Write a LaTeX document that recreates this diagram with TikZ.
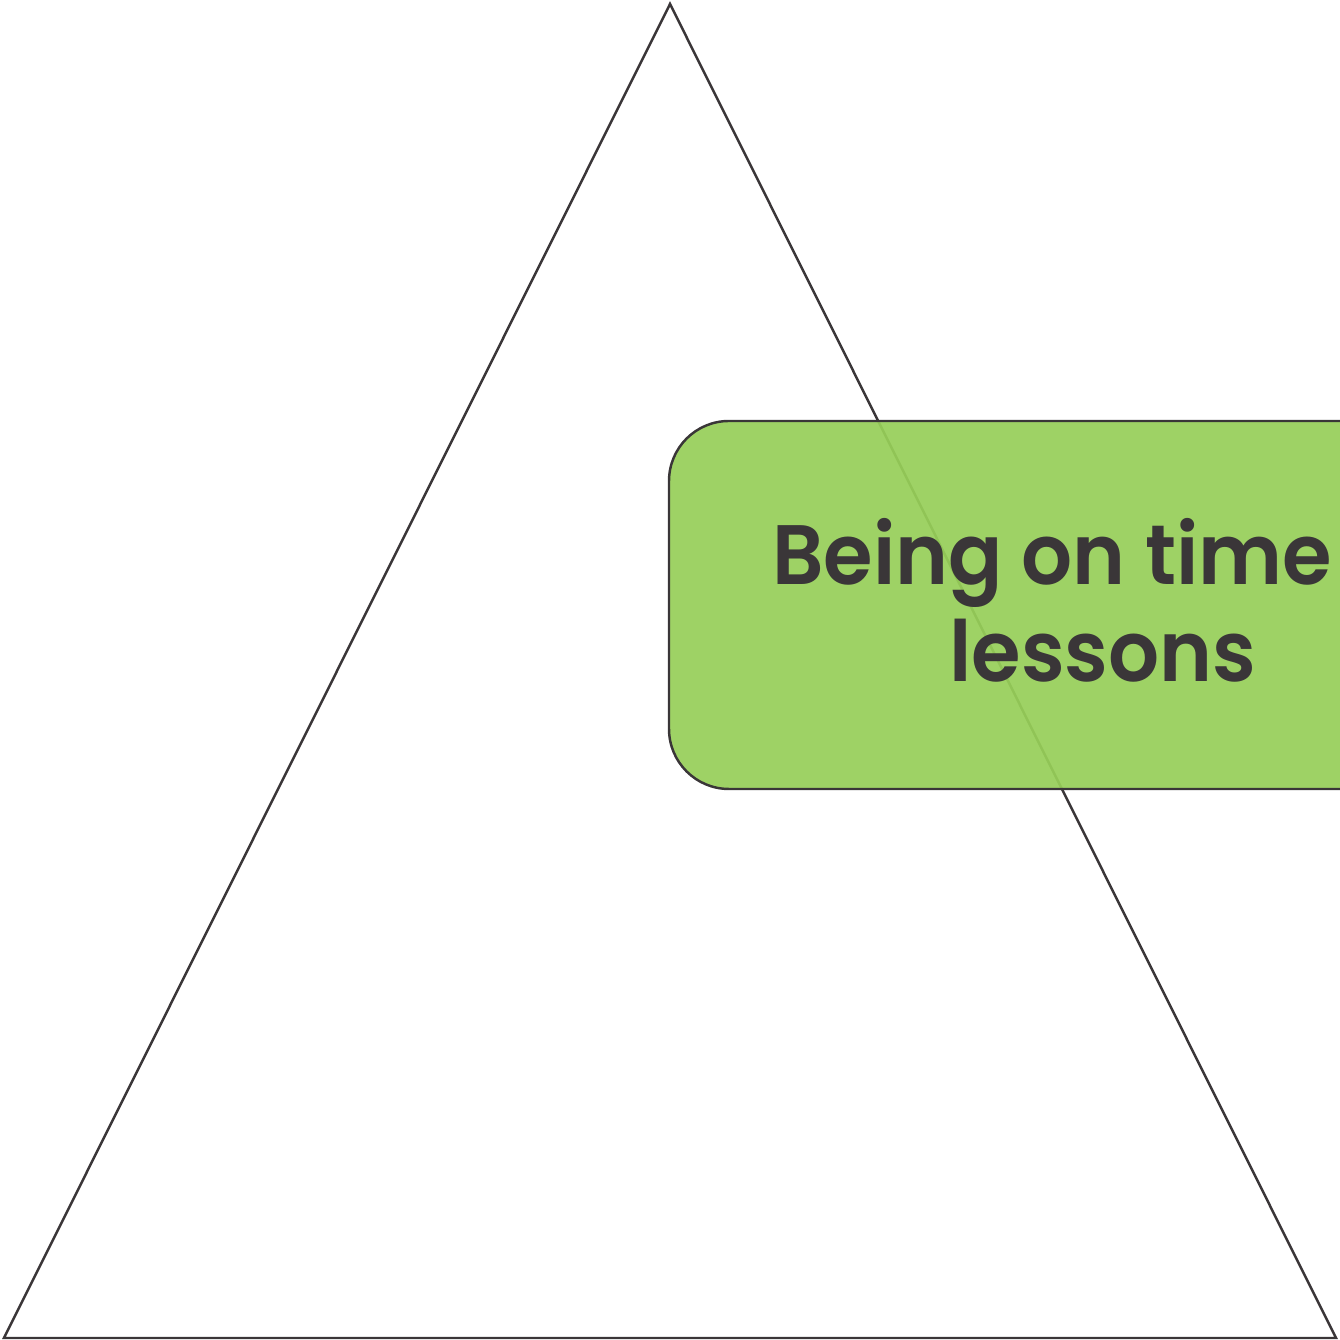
\documentclass[tikz,border=0pt]{standalone}
\usepackage{fontspec}
\usepackage{tikz}
\newfontfamily\boxfont{Poppins}[UprightFont=* SemiBold]
\definecolor{inkgray}{HTML}{3A3638}
\definecolor{leafgreen}{HTML}{97CF59}
\tikzset{boxlabel/.style={anchor=base, inkgray, inner sep=0pt, xscale=0.95, font=\boxfont\fontsize{24}{28}\selectfont}}

\begin{document}
\begin{tikzpicture}
    % Fix the picture size
    \useasboundingbox (0,0) rectangle (13.4,13.4);

    % Draw the big triangle
    \draw[inkgray, line width=0.7pt, line join=miter] (0.04,0.02) coordinate (tl) -- (6.70,13.36) coordinate (tt) -- (13.36,0.02) coordinate (tr) -- cycle;

    % Green rounded box, running off the right edge
    \def\boxleft{6.69}
    \def\boxtop{9.19}
    \def\boxbottom{5.51}
    \fill[leafgreen, fill opacity=0.93, rounded corners=0.6cm] (\boxleft,\boxbottom) rectangle (15.4,\boxtop);
    \draw[inkgray, line width=0.7pt, rounded corners=0.6cm] (\boxleft,\boxbottom) rectangle (15.4,\boxtop);

    % Label lines
    \node[boxlabel] (lineone) at (10.52,7.55) {Being on time};
    \node[boxlabel] (linetwo) at (11.03,6.58) {lessons};

\end{tikzpicture}
\end{document}
